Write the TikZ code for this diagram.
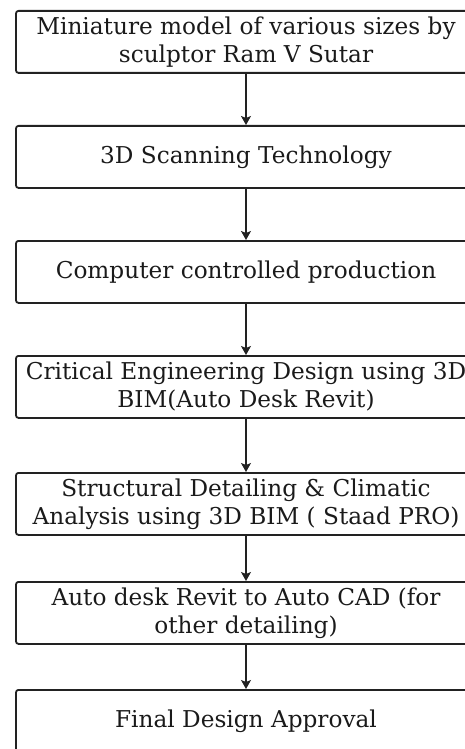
\documentclass[tikz,border=0pt]{standalone}
\usepackage{fontspec}
\setmainfont{DejaVu Serif}
\usetikzlibrary{arrows.meta}
\definecolor{boxline}{HTML}{222222}
\definecolor{txt}{HTML}{1A1A1A}
\tikzset{
  stepbox/.style={draw=boxline, line width=1.8pt, rounded corners=2.5pt, minimum width=460pt,
    minimum height=62pt, inner sep=0pt, anchor=north, align=center, text=txt,
    font=\fontsize{23.2}{28}\selectfont},
  flow/.style={draw=boxline, line width=1.3pt, -{Stealth[length=9pt,width=10pt,inset=2pt]}}
}
\begin{document}
\begin{tikzpicture}[x=1pt,y=1pt]
\useasboundingbox (0,0) rectangle (465,-749);
\node[stepbox] (b1) at (246,-10) {Miniature model of various sizes by\\sculptor Ram V Sutar};
\node[stepbox] (b2) at (246,-125) {3D Scanning Technology};
\node[stepbox] (b3) at (246,-240) {Computer controlled production};
\node[stepbox] (b4) at (246,-355) {Critical Engineering Design using 3D\\BIM(Auto Desk Revit)};
\node[stepbox] (b5) at (246,-472) {Structural Detailing \& Climatic\\Analysis using 3D BIM ( Staad PRO)};
\node[stepbox] (b6) at (246,-581) {Auto desk Revit to Auto CAD (for\\other detailing)};
\node[stepbox] (b7) at (246,-689) {Final Design Approval};
\draw[flow] (b1) -- (b2);
\draw[flow] (b2) -- (b3);
\draw[flow] (b3) -- (b4);
\draw[flow] (b4) -- (b5);
\draw[flow] (b5) -- (b6);
\draw[flow] (b6) -- (b7);
\end{tikzpicture}
\end{document}
